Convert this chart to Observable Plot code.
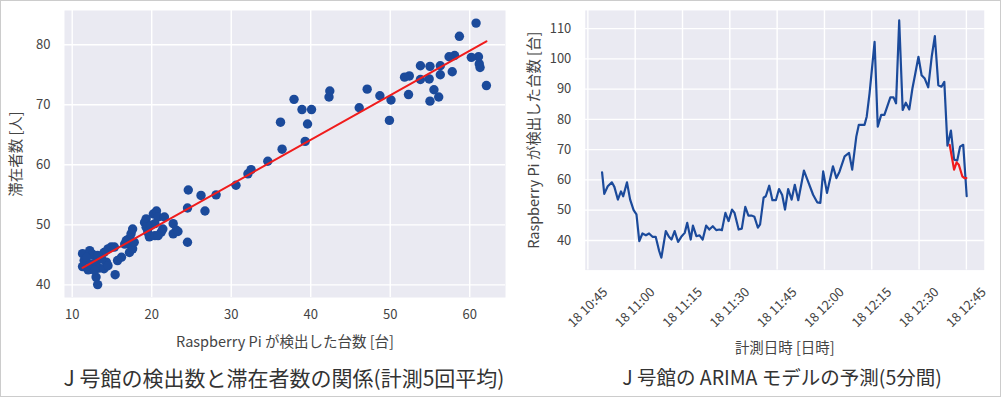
<!DOCTYPE html>
<html><head><meta charset="utf-8">
<script src="https://cdn.jsdelivr.net/npm/d3@7"></script>
<script src="https://cdn.jsdelivr.net/npm/@observablehq/plot@0.6"></script>
<style>
html,body{margin:0;padding:0;background:#fff;}
#fig{position:relative;width:1001px;height:397px;box-sizing:border-box;border:1px solid #cccccc;overflow:hidden;font-family:"Noto Sans CJK JP",sans-serif;color:#333;}
#left{position:absolute;left:-1px;top:-1px;}
#right{position:absolute;left:509px;top:-1px;}
.cap{position:absolute;top:362px;line-height:28px;text-align:center;white-space:nowrap;color:#333;}
</style></head>
<body>
<div id="fig">
  <div id="left"></div>
  <div id="right"></div>
  <div class="cap" id="capL" style="left:33px;width:500px;font-size:21px;"></div>
  <div class="cap" id="capR" style="left:531px;width:500px;font-size:19.5px;"></div>
</div>
<script>
const FONT = '"Noto Sans CJK JP", sans-serif';
const BLUE = "#1b4a9b";
const RED = "#f01c1c";
const BG = "#EAEAF2";

// ---- Left panel: detected count vs. people present ----
const captionLeft = "J 号館の検出数と滞在者数の関係(計測5回平均)";
const xLabelLeft = "Raspberry Pi が検出した台数 [台]";
const yLabelLeft = "滞在者数 [人]";
const xTicksLeft = [10, 20, 30, 40, 50, 60];
const yTicksLeft = [40, 50, 60, 70, 80];
const detected = [
  11.3,12.2,12.6,11.5,11.3,12.0,12.4,13.0,13.4,14.0,14.3,13.7,14.0,14.5,14.9,15.3,13.0,13.2,14.5,15.4,13.2,11.8,12.8,
  15.7,16.2,16.6,16.8,17.2,17.4,17.6,17.4,17.2,17.6,17.8,
  19.3,19.1,19.3,19.5,19.7,20.4,20.2,20.6,20.8,20.4,19.9,21.4,21.6,22.7,23.1,22.7,23.3,21.2,20.8,
  24.6,26.2,28.1,24.5,26.7,24.5,
  30.6,32.1,32.5,34.6,36.4,39.3,36.2,39.6,40.1,38.9,37.9,42.3,42.4,46.1,47.1,48.7,49.9,50.1,52.3,52.4,51.8,
  56.1,55.0,55.5,53.8,54.9,53.8,55.0,56.3,56.3,57.8,62.1,61.3,61.2,61.1,60.2,58.1,57.4,58.7,60.8
];
const present = [
  45.2,45.7,45.05,44.05,43.05,42.5,43.5,43.8,42.8,42.7,43.8,44.3,45.4,46.0,46.3,46.3,41.3,40.05,43.2,41.7,44.9,44.6,42.4,
  44.05,44.6,46.8,47.4,47.7,48.5,49.3,46.6,45.4,46.0,47.1,
  51.0,50.4,49.6,48.8,48.0,48.2,51.8,52.3,51.3,50.2,49.9,49.3,51.3,50.2,49.1,48.5,48.9,48.8,48.2,
  55.8,54.9,55.0,52.8,52.3,47.1,
  56.6,58.5,59.2,60.6,62.6,63.9,67.1,66.8,69.2,69.2,70.9,71.3,72.3,69.5,72.6,71.5,67.4,70.8,71.7,74.8,74.6,
  71.3,70.6,72.5,74.2,74.3,76.5,76.4,75.0,76.5,75.5,73.2,76.2,76.8,78.0,77.9,78.2,78.0,81.4,83.6
];
const scatter = detected.map((x, i) => ({x, y: present[i]}));

// ---- Right panel: detected count time series + ARIMA forecast ----
const captionRight = "J 号館の ARIMA モデルの予測(5分間)";
const xLabelRight = "計測日時 [日時]";
const yLabelRight = "Raspberry Pi が検出した台数 [台]";
const day = "2019-01-18";
const xTickTimes = ["10:45","11:00","11:15","11:30","11:45","12:00","12:15","12:30","12:45"];
const yTicksRight = [40, 50, 60, 70, 80, 90, 100, 110];
const times = [
  "10:49:30","10:50:12","10:51:18","10:52:36","10:53:24","10:54:30","10:55:30","10:56:12","10:57:24","10:58:24",
  "10:59:30","11:00:24","11:01:18","11:02:18","11:03:24","11:04:24","11:05:30","11:06:30","11:07:36","11:08:18",
  "11:09:42","11:10:42","11:11:30","11:12:30","11:13:36","11:14:36","11:15:42","11:16:30","11:17:36","11:18:18",
  "11:19:24","11:20:24","11:21:24","11:22:30","11:23:30","11:24:36","11:25:42","11:26:42","11:27:30","11:28:36",
  "11:29:36","11:30:42","11:31:30","11:32:48","11:33:48","11:34:54","11:35:54","11:37:00","11:37:48","11:38:54",
  "11:39:36","11:40:42","11:41:24","11:42:30","11:43:30","11:44:36","11:45:36","11:46:36","11:47:30","11:48:30",
  "11:49:36","11:50:36","11:51:42","11:53:30","11:54:48","11:56:24","11:57:42","11:58:42","11:59:36","12:00:48",
  "12:02:42","12:03:48","12:04:48","12:06:24","12:07:48","12:08:48","12:10:06","12:10:54","12:12:42","12:13:24",
  "12:14:18","12:15:54","12:16:54","12:18:00","12:19:00","12:19:54","12:20:54","12:21:54","12:22:42","12:23:42",
  "12:24:48","12:25:48","12:26:54","12:27:54","12:28:42","12:29:48","12:30:48","12:31:48","12:32:54","12:34:00",
  "12:35:00","12:36:06","12:37:06","12:38:00","12:39:00","12:40:06","12:41:06","12:42:06","12:43:00","12:44:00",
  "12:45:06"
];
const counts = [
  62.5,55.4,57.9,59.2,57.7,53.5,56.2,54.6,59.2,53.5,
  50.0,48.6,39.8,42.3,41.7,42.3,41.2,41.2,36.5,34.3,
  43.1,41.2,40.3,43.1,39.5,41.2,42.5,45.8,40.3,44.9,
  41.4,41.7,40.3,44.9,43.6,44.7,43.4,43.6,43.4,49.1,
  46.4,50.2,49.1,43.6,43.9,51.1,48.2,48.2,47.8,44.2,
  45.3,54.1,54.6,58.1,53.3,53.3,57.0,55.0,50.2,57.0,
  53.5,58.4,53.3,63.1,59.5,55.1,52.6,52.4,62.8,55.7,
  64.5,60.6,62.8,67.8,68.9,63.4,74.3,78.2,78.2,80.9,
  88.6,105.6,77.6,81.5,81.5,84.2,87.3,87.3,85.3,112.7,
  83.1,85.5,83.3,90.3,94.6,100.7,94.6,93.5,90.6,100.7,
  107.5,91.3,90.8,92.4,71.3,76.3,66.7,66.4,71.0,71.6,
  54.6
];
const forecastTimes = ["12:39:42","12:41:06","12:41:54","12:42:36","12:43:42","12:44:24","12:45:00"];
const forecastValues = [71.6,63.4,65.8,65.0,61.2,60.6,60.6];

const toDate = (t) => new Date(`${day}T${t.length === 5 ? t + ":00" : t}Z`);
const series = times.map((t, i) => ({t: toDate(t), v: counts[i]}));
const forecast = forecastTimes.map((t, i) => ({t: toDate(t), v: forecastValues[i]}));
const xTicksRight = xTickTimes.map(toDate);

const gridStyle = {stroke: "white", strokeOpacity: 1, strokeWidth: 1.4};

const left = Plot.plot({
  width: 510, height: 355,
  marginLeft: 64, marginRight: 5, marginTop: 10, marginBottom: 58,
  style: {fontFamily: FONT, fontSize: "12.5px", color: "#444", background: "transparent"},
  x: {domain: [9.03, 64.5]},
  y: {domain: [37.9, 85.7]},
  marks: [
    Plot.frame({fill: BG, stroke: null}),
    Plot.gridX(xTicksLeft, gridStyle),
    Plot.gridY(yTicksLeft, gridStyle),
    Plot.axisX(xTicksLeft, {tickSize: 0, tickPadding: 12, label: null, fontSize: 13}),
    Plot.axisY(yTicksLeft, {tickSize: 0, tickPadding: 14, label: null, fontSize: 13}),
    Plot.axisX([], {tickSize: 0, label: xLabelLeft, labelAnchor: "center", labelOffset: 49, labelArrow: "none", fontSize: 14.5}),
    Plot.axisY([], {tickSize: 0, label: yLabelLeft, labelAnchor: "center", labelOffset: 54, labelArrow: "none", fontSize: 14.5}),
    Plot.dot(scatter, {x: "x", y: "y", r: 4.7, fill: BLUE, stroke: null}),
    Plot.linearRegressionY(scatter, {x: "x", y: "y", stroke: RED, strokeWidth: 2, ci: 0})
  ]
});
document.getElementById("left").append(left);

const right = Plot.plot({
  width: 492, height: 360,
  marginLeft: 75, marginRight: 16.3, marginTop: 10, marginBottom: 89.3,
  style: {fontFamily: FONT, fontSize: "12.5px", color: "#444", background: "transparent"},
  x: {type: "utc", domain: [toDate("10:44:09"), toDate("12:50:40")]},
  y: {domain: [30.2, 116]},
  marks: [
    Plot.frame({fill: BG, stroke: null}),
    Plot.gridX(xTicksRight, gridStyle),
    Plot.gridY(yTicksRight, gridStyle),
    Plot.axisX(xTicksRight, {tickSize: 0, tickPadding: 37.6, tickRotate: -45, textAnchor: "middle", lineAnchor: "middle",
      tickFormat: d3.utcFormat("%d %H:%M"), label: null, fontSize: 13}),
    Plot.axisY(yTicksRight, {tickSize: 0, tickPadding: 14, label: null, fontSize: 13}),
    Plot.axisX([], {tickSize: 0, label: xLabelRight, labelAnchor: "center", labelOffset: 83, labelArrow: "none", fontSize: 14.5}),
    Plot.axisY([], {tickSize: 0, label: yLabelRight, labelAnchor: "center", labelOffset: 57, labelArrow: "none", fontSize: 14.5}),
    Plot.line(series, {x: "t", y: "v", stroke: BLUE, strokeWidth: 2.2}),
    Plot.line(forecast, {x: "t", y: "v", stroke: RED, strokeWidth: 2.2})
  ]
});
document.getElementById("right").append(right);

document.getElementById("capL").textContent = captionLeft;
document.getElementById("capR").textContent = captionRight;
</script>
</body></html>
